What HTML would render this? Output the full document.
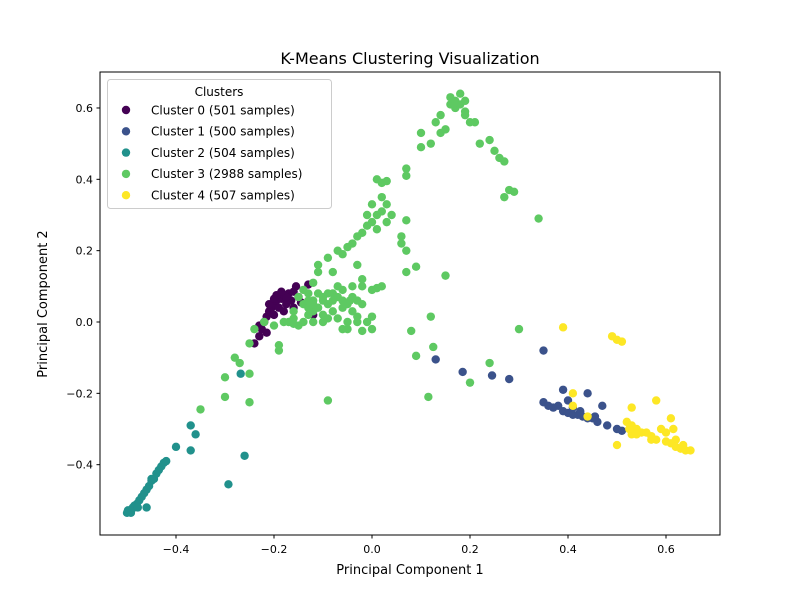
<!DOCTYPE html>
<html><head><meta charset="utf-8"><style>
body{margin:0;background:#fff;font-family:"Liberation Sans","DejaVu Sans",sans-serif}
</style></head><body>
<svg id="chart" width="800" height="600" xmlns="http://www.w3.org/2000/svg" style="font-family:'DejaVu Sans','Liberation Sans',sans-serif">
<rect width="800" height="600" fill="#fff"/>
<text x="410" y="64" text-anchor="middle" font-size="16">K-Means Clustering Visualization</text>
<g id="marks"></g>
<rect x="100" y="72" width="620" height="463" fill="none" stroke="#000" stroke-width="1"/>
<g id="axes"></g>
<text x="410" y="574" text-anchor="middle" font-size="13">Principal Component 1</text>
<text transform="translate(47,304) rotate(-90)" text-anchor="middle" font-size="13">Principal Component 2</text>
<g id="legend"></g>
</svg>
<script>
const xTicks=[-0.4,-0.2,0.0,0.2,0.4,0.6];
const yTicks=[-0.4,-0.2,0.0,0.2,0.4,0.6];
const clusterNames=["Cluster 0 (501 samples)","Cluster 1 (500 samples)","Cluster 2 (504 samples)","Cluster 3 (2988 samples)","Cluster 4 (507 samples)"];
const colors=["#440154","#3b528b","#21918c","#5ec962","#fde725"];
const c0=[[-0.24,-0.06],[-0.23,-0.04],[-0.225,-0.02],[-0.22,0.0],[-0.215,0.015],[-0.21,0.03],[-0.205,0.04],[-0.2,0.05],[-0.195,0.06],[-0.19,0.07],[-0.185,0.065],[-0.18,0.075],[-0.17,0.08],[-0.16,0.085],[-0.155,0.1],[-0.13,0.105],[-0.12,0.02],[-0.175,0.05],[-0.165,0.06],[-0.2,0.02],[-0.19,0.04],[-0.18,0.03],[-0.21,0.05],[-0.195,0.075],[-0.175,0.07],[-0.15,0.07],[-0.145,0.055],[-0.16,0.04],[-0.2,0.065],[-0.185,0.085],[-0.23,-0.01],[-0.215,-0.03]];
const c1=[[0.35,-0.08],[0.13,-0.105],[0.185,-0.14],[0.245,-0.15],[0.28,-0.16],[0.39,-0.19],[0.44,-0.2],[0.35,-0.225],[0.37,-0.24],[0.38,-0.235],[0.39,-0.25],[0.4,-0.255],[0.41,-0.26],[0.42,-0.26],[0.43,-0.265],[0.44,-0.27],[0.45,-0.27],[0.46,-0.28],[0.47,-0.235],[0.48,-0.29],[0.4,-0.22],[0.41,-0.24],[0.36,-0.235],[0.5,-0.3],[0.51,-0.305],[0.455,-0.265],[0.425,-0.25]];
const c2=[[-0.5,-0.535],[-0.495,-0.53],[-0.49,-0.525],[-0.485,-0.515],[-0.48,-0.51],[-0.475,-0.5],[-0.47,-0.49],[-0.465,-0.48],[-0.46,-0.47],[-0.455,-0.46],[-0.45,-0.445],[-0.445,-0.44],[-0.44,-0.425],[-0.435,-0.415],[-0.43,-0.405],[-0.425,-0.395],[-0.42,-0.39],[-0.498,-0.528],[-0.492,-0.535],[-0.488,-0.52],[-0.478,-0.52],[-0.46,-0.52],[-0.45,-0.44],[-0.4,-0.35],[-0.37,-0.36],[-0.36,-0.315],[-0.37,-0.29],[-0.26,-0.375],[-0.293,-0.455],[-0.268,-0.145]];
const c3=[[-0.3,-0.21],[-0.3,-0.155],[-0.28,-0.1],[-0.27,-0.115],[-0.25,-0.145],[-0.25,-0.225],[-0.25,-0.06],[-0.19,-0.065],[-0.19,-0.08],[-0.35,-0.245],[-0.24,-0.02],[-0.22,0.0],[-0.2,-0.01],[-0.18,0.0],[-0.15,-0.01],[-0.13,0.02],[-0.1,0.0],[-0.08,0.03],[-0.06,-0.02],[-0.05,-0.02],[-0.02,-0.025],[0.0,-0.02],[0.0,0.015],[-0.03,0.015],[-0.12,0.06],[-0.1,0.07],[-0.08,0.08],[-0.06,0.09],[-0.04,0.1],[-0.14,0.05],[-0.16,0.03],[-0.11,0.04],[-0.09,0.05],[-0.05,0.05],[-0.03,0.06],[0.0,0.09],[-0.13,0.08],[-0.12,0.11],[-0.11,0.14],[-0.11,0.16],[-0.08,0.14],[-0.09,0.18],[-0.07,0.2],[-0.06,0.19],[-0.05,0.21],[-0.04,0.22],[-0.03,0.24],[-0.02,0.25],[-0.01,0.27],[0.0,0.28],[0.01,0.3],[0.02,0.31],[0.0,0.33],[-0.01,0.3],[0.02,0.35],[0.03,0.33],[0.02,0.39],[0.03,0.395],[-0.03,0.16],[-0.02,0.12],[0.01,0.26],[0.06,0.24],[0.06,0.22],[0.07,0.285],[0.07,0.14],[0.09,0.155],[0.07,0.2],[0.07,0.43],[0.07,0.41],[0.1,0.49],[0.1,0.53],[0.12,0.5],[0.13,0.56],[0.14,0.58],[0.14,0.53],[0.15,0.54],[0.16,0.61],[0.17,0.62],[0.18,0.64],[0.17,0.6],[0.18,0.61],[0.19,0.62],[0.16,0.63],[0.19,0.59],[0.2,0.56],[0.19,0.58],[0.21,0.56],[0.24,0.51],[0.25,0.48],[0.26,0.46],[0.27,0.45],[0.22,0.5],[0.28,0.37],[0.29,0.365],[0.27,0.35],[0.34,0.29],[0.15,0.13],[0.08,-0.025],[0.09,-0.095],[0.12,0.015],[0.125,-0.07],[0.115,-0.21],[0.2,-0.17],[0.24,-0.115],[0.3,-0.02],[-0.09,-0.22],[-0.045,0.06],[-0.02,0.1],[0.01,0.095],[-0.07,0.1],[-0.1,0.02],[-0.16,0.01],[-0.15,0.07],[-0.14,0.09],[0.01,0.4],[0.04,0.3],[0.03,0.28],[-0.12,0.03],[-0.08,0.06],[-0.06,0.04],[-0.04,0.03],[-0.17,0.0],[-0.16,-0.005],[-0.14,0.0],[-0.13,0.04],[-0.12,0.05],[-0.1,0.06],[-0.09,0.08],[-0.07,0.07],[-0.11,0.08],[-0.13,0.06],[-0.12,0.0],[-0.09,0.01],[-0.07,0.01],[-0.05,0.0],[-0.03,0.0],[-0.01,0.0],[-0.06,0.06],[-0.04,0.07],[-0.02,0.05],[0.02,0.1]];
const c4=[[0.39,-0.015],[0.41,-0.2],[0.49,-0.04],[0.5,-0.05],[0.51,-0.055],[0.58,-0.22],[0.61,-0.27],[0.53,-0.24],[0.5,-0.345],[0.41,-0.235],[0.44,-0.265],[0.52,-0.28],[0.53,-0.29],[0.54,-0.3],[0.55,-0.31],[0.56,-0.31],[0.57,-0.32],[0.58,-0.33],[0.59,-0.3],[0.6,-0.335],[0.61,-0.34],[0.62,-0.33],[0.62,-0.35],[0.63,-0.355],[0.64,-0.36],[0.65,-0.36],[0.6,-0.31],[0.53,-0.315],[0.54,-0.315],[0.525,-0.3],[0.615,-0.3],[0.57,-0.33],[0.635,-0.345]];
const clusters=[c0,c1,c2,c3,c4];

const NS="http://www.w3.org/2000/svg";
const X=v=>372+490*v;
const Y=v=>322-356.7*v;
function mk(tag,attrs,parent){const e=document.createElementNS(NS,tag);for(const k in attrs)e.setAttribute(k,attrs[k]);parent.appendChild(e);return e;}
const marks=document.getElementById('marks');
clusters.forEach((pts,ci)=>{
  const g=mk('g',{},marks);
  
  
  pts.forEach(p=>{
    const c=mk('circle',{cx:X(p[0]),cy:Y(p[1]),r:4.2,fill:colors[ci]},g);
    
    
  });
});
const axes=document.getElementById('axes');
xTicks.forEach(t=>{
  const x=X(t);
  const l=mk('line',{x1:x,x2:x,y1:535,y2:538.5,stroke:'#000'},axes);
  
  
  const tx=mk('text',{x:x,y:553,'text-anchor':'middle','font-size':'11'},axes);
  tx.textContent=(t<0?'\u2212':'')+Math.abs(t).toFixed(1);
  
  
});
yTicks.forEach(t=>{
  const y=Y(t);
  const l=mk('line',{x1:96.5,x2:100,y1:y,y2:y,stroke:'#000'},axes);
  
  
  const tx=mk('text',{x:93,y:y+4,'text-anchor':'end','font-size':'11'},axes);
  tx.textContent=(t<0?'\u2212':'')+Math.abs(t).toFixed(1);
  
  
});
const lg=document.getElementById('legend');
mk('rect',{x:107.5,y:79.5,width:224,height:129,rx:3,fill:'#fff','fill-opacity':0.8,stroke:'#ccc'},lg);
const lt=mk('text',{x:219,y:96,'text-anchor':'middle','font-size':'12'},lg);
lt.textContent='Clusters';


clusterNames.forEach((n,i)=>{
  const y=110+21.3*i;
  const c=mk('circle',{cx:126,cy:y,r:4.2,fill:colors[i]},lg);
  
  
  const t=mk('text',{x:151,y:y+4.3,'font-size':'12'},lg);
  t.textContent=n;
  
  
});
</script>
</body></html>
